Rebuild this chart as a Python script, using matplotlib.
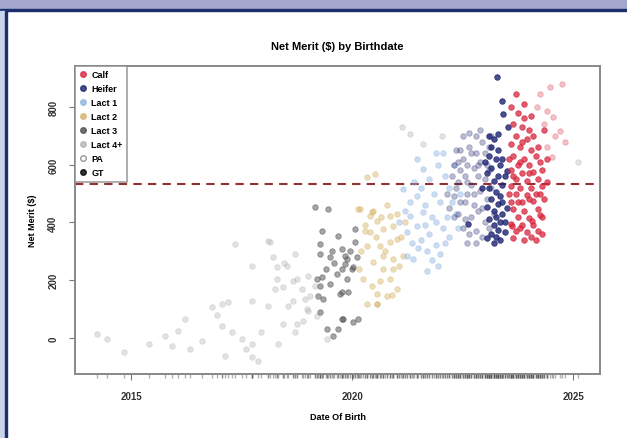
import numpy as np
import matplotlib
matplotlib.use('Agg')
import matplotlib.pyplot as plt
from matplotlib.patches import Rectangle
from matplotlib.lines import Line2D

plt.rcParams['font.family'] = ['Liberation Sans', 'DejaVu Sans']

# data: birth date (decimal year) and Net Merit ($)
lact4_x = [2014.23, 2014.46, 2014.84, 2015.77, 2015.93, 2016.06, 2016.22, 2016.33, 2016.60, 2016.83,
           2017.06, 2017.19, 2017.06, 2017.29, 2017.13, 2017.35, 2017.74, 2017.74, 2017.74, 2017.74,
           2017.87, 2018.10, 2018.10, 2018.21, 2018.30, 2018.30, 2018.26, 2018.33, 2018.44, 2018.44,
           2018.55, 2018.71, 2018.76, 2018.71, 2018.87, 2018.94, 2019.00, 2019.00, 2019.16, 2018.53,
           2018.67, 2018.98, 2019.21, 2018.76, 2019.43, 2018.14, 2018.67, 2019.05, 2017.60, 2017.50,
           2015.40, 2016.95, 2017.95, 2018.45, 2018.90, 2021.13, 2021.31, 2022.04, 2021.61, 2025.11]
lact4_y = [14, -3, -48, 7, -28, 24, 66, -38, -10, 107,
           118, 125, 42, 21, -62, 325, 249, 128, -21, -66,
           -80, 336, 111, 280, 246, 204, 170, -21, 177, 48,
           111, 291, 204, 21, 170, 135, 94, 215, 180, 249,
           128, 100, 76, 48, -3, 332, 197, 145, -40, -5,
           -20, 80, 20, 260, 60, 731, 706, 700, 672, 609]

lact3_x = [2019.16, 2019.46, 2019.32, 2019.68, 2019.28, 2019.28, 2019.32, 2019.23, 2019.34, 2019.43,
           2019.57, 2019.68, 2019.77, 2019.84, 2019.89, 2019.77, 2020.00, 2019.89, 2019.77, 2019.91,
           2020.07, 2020.07, 2019.77, 2020.02, 2020.14, 2019.50, 2019.84, 2020.02, 2019.66, 2019.50,
           2019.28, 2019.73, 2019.21, 2019.28, 2019.80, 2019.55, 2019.95, 2019.60, 2020.10, 2019.40]
lact3_y = [454, 447, 371, 353, 325, 291, 211, 145, 135, 31,
           7, 31, 308, 284, 274, 239, 239, 204, 159, 159,
           377, 332, 66, 55, 66, 280, 256, 246, 222, 187,
           180, 152, 204, 90, 66, 300, 300, 260, 280, 240]

lact2_x = [2020.18, 2020.48, 2020.41, 2020.57, 2020.70, 2020.86, 2021.02, 2020.93, 2020.34, 2020.63,
           2020.86, 2021.02, 2020.70, 2020.93, 2021.15, 2020.48, 2020.70, 2020.93, 2020.63, 2020.86,
           2021.02, 2020.57, 2020.79, 2020.34, 2020.57, 2020.25, 2020.41, 2020.52, 2020.34, 2020.29,
           2020.45, 2020.20, 2020.55, 2020.75, 2021.10, 2020.90, 2020.45, 2020.65, 2021.05, 2020.30,
           2020.80, 2020.15, 2021.20, 2020.14, 2020.57]
lact2_y = [447, 440, 367, 405, 377, 422, 429, 388, 318, 318,
           332, 343, 284, 274, 284, 263, 239, 239, 197, 204,
           170, 152, 145, 118, 118, 204, 422, 568, 558, 371,
           436, 300, 350, 300, 350, 150, 180, 420, 250, 390,
           460, 240, 400, 447, 118]

lact1_x = [2021.47, 2021.31, 2021.61, 2021.24, 2021.38, 2021.31, 2021.47, 2021.61, 2021.15, 2021.47,
           2021.24, 2021.70, 2021.80, 2021.90, 2022.00, 2021.55, 2021.75, 2021.90, 2022.05, 2022.15,
           2021.65, 2021.85, 2022.00, 2022.20, 2021.75, 2021.95, 2022.10, 2022.25, 2022.35, 2021.40,
           2021.55, 2021.20, 2021.05, 2021.90, 2022.30, 2022.40, 2021.80, 2022.10, 2021.65, 2022.20,
           2021.35, 2022.45, 2022.05, 2021.70, 2021.95, 2021.50]
lact1_y = [388, 422, 436, 284, 274, 471, 620, 585, 516, 492,
           367, 300, 270, 320, 290, 340, 360, 400, 380, 420,
           460, 500, 470, 520, 550, 600, 560, 470, 430, 540,
           520, 440, 400, 640, 600, 380, 420, 330, 390, 350,
           330, 500, 640, 230, 250, 310]

heifer_pa_x = [2022.25, 2022.30, 2022.35, 2022.40, 2022.45, 2022.50, 2022.55, 2022.60, 2022.65, 2022.70,
               2022.75, 2022.80, 2022.85, 2022.90, 2022.95, 2023.00, 2023.05, 2022.30, 2022.45, 2022.60,
               2022.75, 2022.90, 2023.05, 2022.40, 2022.55, 2022.70, 2022.85, 2023.00, 2022.50, 2022.65,
               2022.80, 2022.95, 2022.20, 2022.35, 2022.50, 2022.65, 2022.80, 2022.90, 2023.10, 2023.15,
               2023.20, 2022.60, 2022.70, 2022.45, 2022.85, 2023.10, 2022.30, 2022.15, 2022.55, 2023.00,
               2022.75, 2022.40, 2023.15, 2022.95, 2022.60, 2022.80, 2023.10]
heifer_pa_y = [560, 600, 650, 540, 580, 620, 560, 600, 660, 530,
               590, 640, 560, 610, 680, 550, 600, 490, 470, 500,
               460, 510, 480, 430, 410, 420, 440, 400, 380, 360,
               370, 350, 450, 520, 700, 710, 700, 720, 660, 520,
               430, 540, 640, 650, 600, 580, 420, 500, 470, 640,
               500, 610, 700, 450, 330, 330, 380]

heifer_gt_x = [2023.28, 2023.39, 2023.42, 2023.53, 2023.51, 2022.62, 2023.10, 2023.20, 2023.15, 2023.30,
               2023.10, 2023.25, 2023.35, 2023.15, 2023.05, 2023.30, 2023.20, 2023.40, 2023.10, 2023.25,
               2023.35, 2023.15, 2023.30, 2023.05, 2023.20, 2023.40, 2023.25, 2023.10, 2023.35, 2023.20,
               2023.30, 2023.45, 2023.15, 2023.25, 2023.35, 2023.05, 2023.40, 2023.45, 2023.40, 2023.00,
               2023.30, 2023.45, 2022.95, 2023.50, 2023.20]
heifer_gt_y = [904, 821, 776, 731, 578, 395, 700, 690, 660, 650,
               630, 620, 600, 590, 570, 560, 545, 530, 520, 505,
               490, 480, 465, 455, 440, 430, 420, 410, 400, 390,
               375, 365, 360, 350, 340, 345, 470, 560, 620, 610,
               705, 400, 520, 450, 330]

calf_gt_x = [2023.60, 2023.75, 2023.90, 2023.65, 2023.85, 2024.00, 2023.70, 2023.95, 2024.10, 2023.60,
             2023.80, 2024.05, 2024.20, 2023.65, 2023.90, 2024.15, 2023.75, 2024.00, 2024.25, 2023.60,
             2023.85, 2024.10, 2024.30, 2023.70, 2023.95, 2024.20, 2023.60, 2023.80, 2024.05, 2024.30,
             2023.70, 2023.95, 2024.15, 2023.60, 2023.85, 2024.10, 2024.35, 2023.65, 2023.90, 2024.20,
             2023.75, 2024.00, 2024.25, 2023.60, 2023.85, 2024.10, 2023.70, 2023.95, 2024.20, 2023.65,
             2023.90, 2024.05, 2024.30, 2023.80, 2023.65, 2024.00, 2023.75, 2024.25, 2023.55, 2023.55,
             2023.90, 2024.05, 2024.40, 2024.35, 2024.30, 2023.80, 2024.15, 2024.40, 2023.70, 2024.00,
             2023.85, 2023.62, 2024.07]
calf_gt_y = [800, 780, 760, 740, 730, 720, 700, 690, 700, 670,
             660, 650, 660, 630, 620, 630, 600, 600, 610, 580,
             570, 575, 580, 550, 545, 550, 525, 520, 520, 525,
             500, 495, 500, 470, 470, 475, 480, 445, 440, 445,
             420, 415, 425, 395, 390, 390, 370, 365, 370, 345,
             340, 350, 360, 610, 560, 570, 470, 500, 500, 620,
             810, 770, 620, 720, 420, 380, 340, 540, 845, 480,
             680, 388, 405]

calf_pa_x = [2024.48, 2024.75, 2024.25, 2024.41, 2024.55, 2024.19, 2024.71, 2024.82, 2024.52, 2024.41,
             2024.60, 2024.35]
calf_pa_y = [869, 880, 845, 786, 765, 800, 717, 679, 627, 661,
             700, 740]

groups = ['Calf', 'Heifer', 'Lact 1', 'Lact 2', 'Lact 3', 'Lact 4+', 'PA', 'GT']
group_colors = ['#d7263d', '#1c2270', '#8fb4e3', '#d6b46a', '#4d4d4d', '#b3b3b3', 'white', 'black']
nm_mean = 533

fig = plt.figure(figsize=(6.27, 4.39), dpi=100)
ax = fig.add_axes([0.1196, 0.146, 0.8374, 0.7015])

# (x, y, color, alpha), lightest first
layers = [
    (lact4_x, lact4_y, '#b3b3b3', 0.38),
    (lact3_x, lact3_y, '#4d4d4d', 0.5),
    (lact2_x, lact2_y, '#d6b46a', 0.45),
    (lact1_x, lact1_y, '#8fb4e3', 0.45),
    (heifer_pa_x, heifer_pa_y, '#2a3070', 0.32),
    (calf_pa_x, calf_pa_y, '#d7263d', 0.28),
    (heifer_gt_x, heifer_gt_y, '#1c2270', 0.8),
    (calf_gt_x, calf_gt_y, '#d7263d', 0.75),
]
for xs, ys, col, a in layers:
    ax.scatter(xs, ys, s=16, color=col, alpha=a, edgecolors=col, linewidths=0.6, zorder=3)

ax.axhline(nm_mean, color='#962f2f', lw=1.5, ls=(0, (4, 3)), zorder=2)

# rug of birth dates right under the axis
all_x = np.concatenate([np.asarray(l[0]) for l in layers])
ax.plot(all_x, np.full(len(all_x), -0.008), '|', color='#555555', alpha=0.45, ms=3.5,
        transform=ax.get_xaxis_transform(), clip_on=False)

ax.set_xlim(2013.73, 2025.61)
ax.set_ylim(-125, 942)
ax.set_xticks([2015, 2020, 2025])
ax.set_yticks([0, 200, 400, 600, 800])
ax.tick_params(labelsize=7, length=4, color='#777777', pad=8)
for lab in ax.get_xticklabels() + ax.get_yticklabels():
    lab.set_fontweight('bold')
    lab.set_color('#333333')
for lab in ax.get_yticklabels():
    lab.set_rotation(90)
    lab.set_va('center')
for sp in ax.spines.values():
    sp.set_color('#888888')
    sp.set_linewidth(1.4)

ax.set_title('Net Merit ($) by Birthdate', fontsize=8, fontweight='bold', pad=12)
ax.set_xlabel('Date Of Birth', fontsize=6.5, fontweight='bold', labelpad=8)
ax.set_ylabel('Net Merit ($)', fontsize=6.5, fontweight='bold', labelpad=8)

handles = []
for g, c in zip(groups, group_colors):
    if g == 'PA':
        handles.append(Line2D([], [], marker='o', ls='', mfc='white', mec='#999999', ms=4))
    else:
        handles.append(Line2D([], [], marker='o', ls='', mfc=c, mec=c, ms=4, alpha=0.8))
leg = ax.legend(handles, groups, loc='upper left', frameon=True, fancybox=False,
                borderaxespad=0, labelspacing=0.55, handlelength=0.8, handletextpad=0.5,
                borderpad=0.5, prop={'weight': 'bold', 'size': 6.5})
leg.get_frame().set_edgecolor('#888888')
leg.get_frame().set_linewidth(1.2)
leg.set_zorder(5)

# screenshot frame: lavender band on top, blue strip on the left
H = 439.0
W = 627.0
fig.add_artist(Rectangle((0, 1 - 10 / H), 1, 10 / H, transform=fig.transFigure,
                         color='#a3a7cd', zorder=0))
fig.add_artist(Rectangle((0, 1 - 12 / H), 1, 2 / H, transform=fig.transFigure,
                         color='#1c2e6e', zorder=0))
fig.add_artist(Rectangle((0, 0), 5 / W, 1 - 12 / H, transform=fig.transFigure,
                         color='#c9d3ea', zorder=0))
fig.add_artist(Rectangle((5 / W, 0), 2 / W, 1 - 12 / H, transform=fig.transFigure,
                         color='#1c2e6e', zorder=0))

fig.savefig('out.png', dpi=100)
